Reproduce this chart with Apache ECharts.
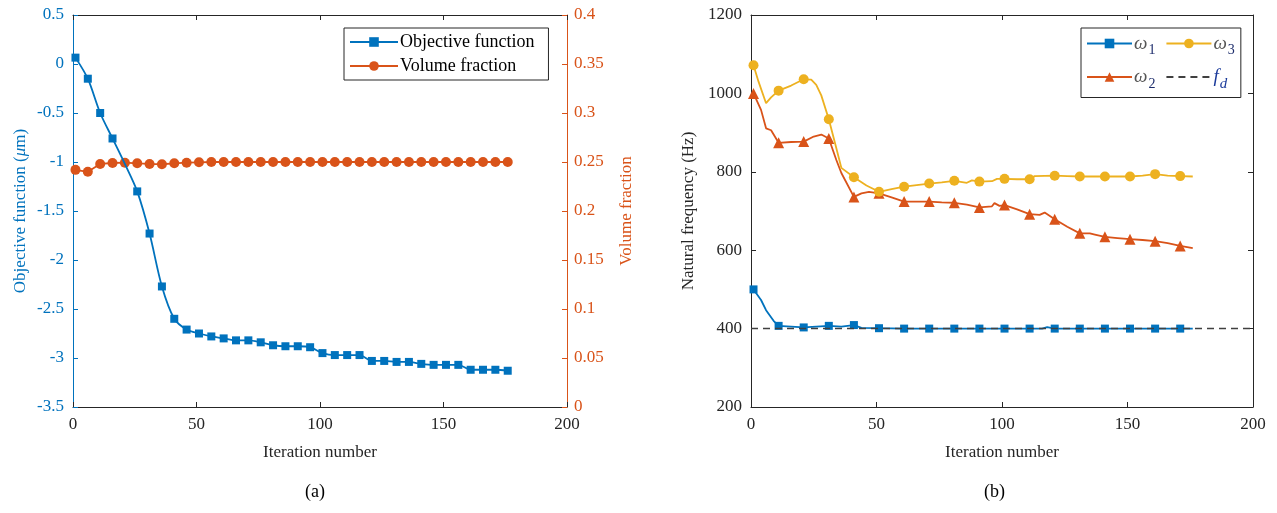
<!DOCTYPE html>
<html><head><meta charset="utf-8">
<script src="https://cdn.jsdelivr.net/npm/echarts@6/dist/echarts.min.js"></script>
<style>html,body{margin:0;padding:0;background:#fff}#c{width:1277px;height:513px}</style>
</head><body><div id="c"></div><script>
// ---------- data: chart (a) ----------
const objIter = [1,6,11,16,21,26,31,36,41,46,51,56,61,66,71,76,81,86,91,96,101,106,111,116,121,126,131,136,141,146,151,156,161,166,171,176];
const objVal  = [0.065,-0.15,-0.50,-0.76,-1.02,-1.30,-1.73,-2.27,-2.60,-2.71,-2.75,-2.78,-2.80,-2.82,-2.82,-2.84,-2.87,-2.88,-2.88,-2.89,-2.95,-2.97,-2.97,-2.97,-3.03,-3.03,-3.04,-3.04,-3.06,-3.07,-3.07,-3.07,-3.12,-3.12,-3.12,-3.13];
const objNoMark = [21];
const volIter = [1,6,11,16,21,26,31,36,41,46,51,56,61,66,71,76,81,86,91,96,101,106,111,116,121,126,131,136,141,146,151,156,161,166,171,176];
const volVal  = [0.242,0.240,0.248,0.249,0.2493,0.2487,0.248,0.2477,0.2487,0.2493,0.2497,0.25,0.25,0.25,0.25,0.25,0.25,0.25,0.25,0.25,0.25,0.25,0.25,0.25,0.25,0.25,0.25,0.25,0.25,0.25,0.25,0.25,0.25,0.25,0.25,0.25];
// ---------- data: chart (b) ----------
const freqMarks = [1,11,21,31,41,51,61,71,81,91,101,111,121,131,141,151,161,171];
const w1Iter = [1,4,6,9,11,21,31,36,41,44,51,61,71,81,91,101,111,116,118,121,131,141,151,161,171,176];
const w1Val  = [500,473,447,420,407,403,407,405,409,402,401,400,400,400,400,400,400,400,404,400,400,400,400,400,400,400];
const w2Iter = [1,4,6,8,11,16,21,25,28,31,34,36,41,44,47,51,56,61,66,71,76,81,86,91,96,97,99,101,106,111,115,117,121,126,131,135,137,141,146,151,156,161,166,171,176];
const w2Val  = [1000,958,911,906,874,876,877,890,895,885,830,797,736,745,749,745,735,724,724,724,722,721,716,709,712,720,713,715,704,692,690,696,679,660,643,643,640,634,631,628,626,623,618,611,605];
const w3Iter = [1,3,6,8,11,16,21,24,26,28,31,34,36,41,46,51,56,61,66,71,76,81,86,88,91,96,98,101,106,111,113,121,126,131,141,151,156,161,166,171,176];
const w3Val  = [1072,1030,975,990,1007,1020,1036,1035,1022,995,934,860,810,786,765,749,756,762,766,770,773,777,772,778,775,776,782,782,781,781,789,790,789,788,788,788,790,794,790,789,788];
const fdIter = [0,200];
const fdVal  = [400,400];

const BLUE='#0072BD', ORANGE='#D95319', YELLOW='#EDB120', DARK='#262626';
const FONT='"Liberation Serif","Times New Roman",serif';

function build(iters, vals, isMarked){
  return iters.map((x,i)=>{
    const d={value:[x,vals[i]]};
    if(!isMarked(x)) d.symbol='none';
    return d;
  });
}
const objData = build(objIter, objVal, x=>!objNoMark.includes(x));
const volData = build(volIter, volVal, ()=>true);
const w1Data = build(w1Iter, w1Val, x=>freqMarks.includes(x));
const w2Data = build(w2Iter, w2Val, x=>freqMarks.includes(x));
const w3Data = build(w3Iter, w3Val, x=>freqMarks.includes(x));
const fdData = fdIter.map((x,i)=>[x,fdVal[i]]);

const gridA={left:73,top:15,width:494,height:392};
const gridB={left:751,top:15,width:502,height:392};
const plain = v => String(v);

function xAx(gi, pos){
  const bottom = pos==='bottom';
  return {type:'value', gridIndex:gi, position:pos, min:0, max:200, interval:50,
    name: bottom?'Iteration number':'', nameLocation:'middle', nameGap:37,
    nameTextStyle:{fontFamily:FONT,fontSize:17,color:DARK},
    axisLine:{show:true,onZero:false,lineStyle:{color:DARK,width:1}},
    axisTick:{show:true,inside:true,length:5,lineStyle:{color:DARK}},
    axisLabel:{show:bottom,fontFamily:FONT,fontSize:17,color:DARK,margin:9,formatter:plain},
    splitLine:{show:false}};
}

const tickLbl = {fontFamily:FONT,fontSize:17,formatter:plain};

const option = {
  animation:false,
  backgroundColor:'#fff',
  grid:[gridA,gridB],
  xAxis:[xAx(0,'bottom'),xAx(0,'top'),xAx(1,'bottom'),xAx(1,'top')],
  yAxis:[
    {type:'value',gridIndex:0,position:'left',min:-3.5,max:0.5,interval:0.5,
      name:'{n|Objective function (}{i|μ}{n|m)}',nameLocation:'middle',nameGap:44,nameRotate:90,
      nameTextStyle:{color:BLUE,rich:{n:{fontFamily:FONT,fontSize:17,color:BLUE},i:{fontFamily:FONT,fontSize:17,fontStyle:'italic',color:BLUE}}},
      axisLine:{show:true,onZero:false,lineStyle:{color:BLUE}},
      axisTick:{show:true,inside:true,length:5,lineStyle:{color:BLUE}},
      axisLabel:Object.assign({color:BLUE,margin:9},tickLbl),splitLine:{show:false}},
    {type:'value',gridIndex:0,position:'right',min:0,max:0.4,interval:0.05,
      name:'Volume fraction',nameLocation:'middle',nameGap:51,nameRotate:90,
      nameTextStyle:{fontFamily:FONT,fontSize:17,color:ORANGE},
      axisLine:{show:true,onZero:false,lineStyle:{color:ORANGE}},
      axisTick:{show:true,inside:true,length:5,lineStyle:{color:ORANGE}},
      axisLabel:Object.assign({color:ORANGE,margin:7},tickLbl),splitLine:{show:false}},
    {type:'value',gridIndex:1,position:'left',min:200,max:1200,interval:200,
      name:'Natural frequency (Hz)',nameLocation:'middle',nameGap:54,nameRotate:90,
      nameTextStyle:{fontFamily:FONT,fontSize:17,color:DARK},
      axisLine:{show:true,onZero:false,lineStyle:{color:DARK}},
      axisTick:{show:true,inside:true,length:5,lineStyle:{color:DARK}},
      axisLabel:Object.assign({color:DARK,margin:9},tickLbl),splitLine:{show:false}},
    {type:'value',gridIndex:1,position:'right',min:200,max:1200,interval:200,
      axisLine:{show:true,onZero:false,lineStyle:{color:DARK}},
      axisTick:{show:true,inside:true,length:5,lineStyle:{color:DARK}},
      axisLabel:{show:false},splitLine:{show:false}}
  ],
  legend:[
    {orient:'vertical',left:344,top:28,padding:[5,14,5,5],itemGap:6,itemWidth:48,itemHeight:12,
      backgroundColor:'#fff',borderColor:DARK,borderWidth:1,borderRadius:0,
      data:['Objective function','Volume fraction'],
      textStyle:{fontFamily:FONT,fontSize:18,color:'#000',padding:[0,0,0,-3]}},
    {orient:'horizontal',left:1081,top:28,width:150,padding:[6,6,6,5],itemGap:10,itemWidth:45,itemHeight:12,
      backgroundColor:'#fff',borderColor:DARK,borderWidth:1,borderRadius:0,
      data:['ω1','ω3','ω2',{name:'fd',itemStyle:{opacity:0}}],
      formatter:function(n){
        if(n==='fd') return '{f|f}{d|d}';
        return '{w|ω}{s|'+n.slice(1)+'}';
      },
      textStyle:{fontFamily:FONT,fontSize:18,color:DARK,padding:[0,0,0,-3],
        rich:{w:{fontFamily:FONT,fontSize:19,fontStyle:'italic',color:'#555'},
              f:{fontFamily:FONT,fontSize:19,fontStyle:'italic',color:'#1a3a9a'},
              d:{fontFamily:FONT,fontSize:15,fontStyle:'italic',color:'#1a3a9a',padding:[14,0,0,1]},
              s:{fontFamily:FONT,fontSize:14,color:'#1a2a6a',padding:[14,0,0,1]}}}}
  ],
  graphic:[
    {type:'text',left:305,top:483,style:{text:'(a)',font:'18px '+FONT,fill:'#000'}},
    {type:'text',left:984,top:483,style:{text:'(b)',font:'18px '+FONT,fill:'#000'}}
  ],
  series:[
    {name:'Objective function',type:'line',xAxisIndex:0,yAxisIndex:0,data:objData,
      smooth:0.3,symbol:'rect',symbolSize:8,color:BLUE,lineStyle:{width:1.8,color:BLUE},itemStyle:{color:BLUE},z:3},
    {name:'Volume fraction',type:'line',xAxisIndex:0,yAxisIndex:1,data:volData,
      symbol:'circle',symbolSize:10,color:ORANGE,lineStyle:{width:1.8,color:ORANGE},itemStyle:{color:ORANGE},z:2},
    {name:'fd',type:'line',xAxisIndex:2,yAxisIndex:2,data:fdData,symbol:'none',
      color:'#404040',lineStyle:{width:1.5,type:[7,5],color:'#404040'},z:4},
    {name:'ω1',type:'line',xAxisIndex:2,yAxisIndex:2,data:w1Data,
      symbol:'rect',symbolSize:8,color:BLUE,lineStyle:{width:1.8,color:BLUE},itemStyle:{color:BLUE},z:3},
    {name:'ω2',type:'line',xAxisIndex:2,yAxisIndex:2,data:w2Data,
      symbol:'triangle',symbolSize:11,color:ORANGE,lineStyle:{width:1.8,color:ORANGE},itemStyle:{color:ORANGE},z:2},
    {name:'ω3',type:'line',xAxisIndex:2,yAxisIndex:2,data:w3Data,
      symbol:'circle',symbolSize:10,color:YELLOW,lineStyle:{width:1.8,color:YELLOW},itemStyle:{color:YELLOW},z:3}
  ]
};
const chart = echarts.init(document.getElementById('c'),null,{renderer:'canvas'});
chart.setOption(option);
</script></body></html>
